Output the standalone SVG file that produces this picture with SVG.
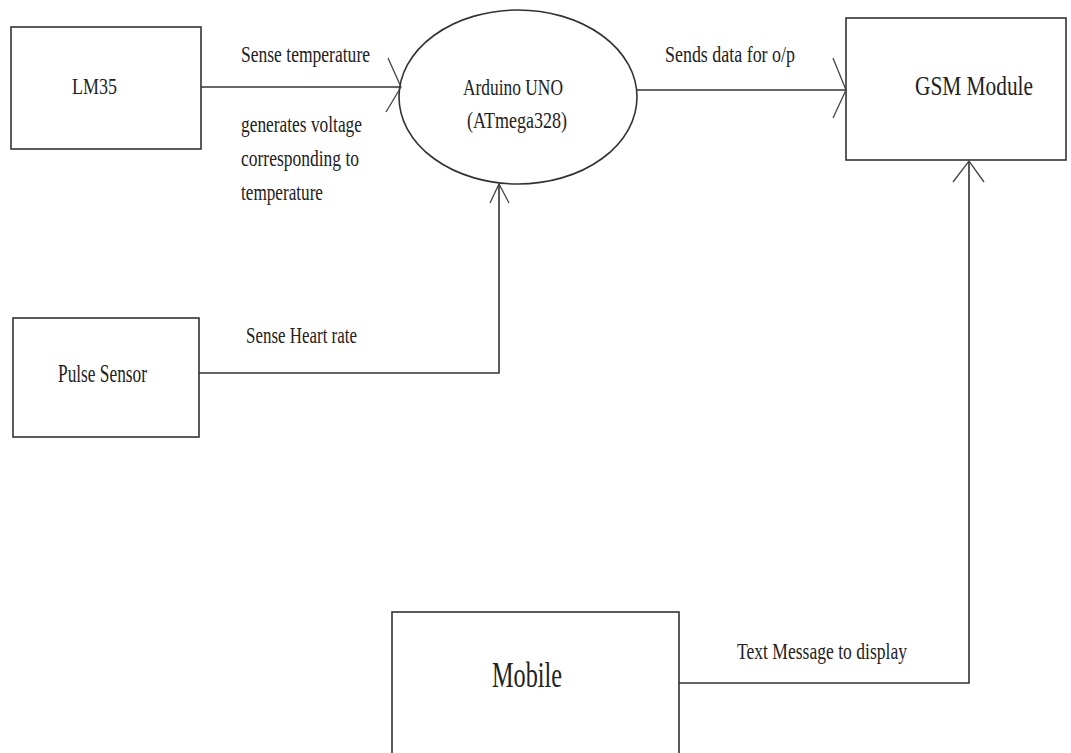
<svg xmlns="http://www.w3.org/2000/svg" width="1071" height="753" viewBox="0 0 1071 753">
<style>
.box{fill:none;stroke:#333;stroke-width:1.6}
.ln{fill:none;stroke:#333;stroke-width:1.6}
.ah{fill:none;stroke:#444;stroke-width:1.3}
text{font-family:"Liberation Serif","Times New Roman",serif;fill:#222}
</style>
<rect x="0" y="0" width="1071" height="753" fill="#fff"/>
<g id="lm35">
<rect class="box" x="11" y="27" width="190" height="122"/>
<text x="72" y="94" font-size="23" textLength="45" lengthAdjust="spacingAndGlyphs">LM35</text>
</g>
<g id="arduino">
<ellipse class="box" cx="518" cy="97" rx="119" ry="87"/>
<text x="463" y="95" font-size="24" textLength="100" lengthAdjust="spacingAndGlyphs">Arduino UNO</text>
<text x="467" y="128" font-size="24" textLength="100" lengthAdjust="spacingAndGlyphs">(ATmega328)</text>
</g>
<g id="gsm">
<rect class="box" x="846" y="18" width="220" height="142"/>
<text x="915" y="95" font-size="27" textLength="118" lengthAdjust="spacingAndGlyphs">GSM Module</text>
</g>
<g id="pulse">
<rect class="box" x="13" y="318" width="186" height="119"/>
<text x="58" y="382" font-size="25" textLength="89" lengthAdjust="spacingAndGlyphs">Pulse Sensor</text>
</g>
<g id="mobile">
<rect class="box" x="392" y="612" width="287" height="150"/>
<text x="492" y="687" font-size="35" textLength="70" lengthAdjust="spacingAndGlyphs">Mobile</text>
</g>
<g id="connectors">
<path class="ln" d="M201,87 H401"/>
<polyline class="ah" points="388,58 401,87 386,112"/>
<path class="ln" d="M637,90 H846"/>
<polyline class="ah" points="833,58 846,90 833,118"/>
<path class="ln" d="M199,373 H499 V184"/>
<polyline class="ah" points="490,203 499,184 509,203"/>
<path class="ln" d="M679,683 H969 V161"/>
<polyline class="ah" points="953,182 969,161 984,182"/>
<text x="241" y="62" font-size="24" textLength="129" lengthAdjust="spacingAndGlyphs">Sense temperature</text>
<text x="241" y="132" font-size="24" textLength="121" lengthAdjust="spacingAndGlyphs">generates voltage</text>
<text x="241" y="166" font-size="24" textLength="118" lengthAdjust="spacingAndGlyphs">corresponding to</text>
<text x="241" y="200" font-size="24" textLength="82" lengthAdjust="spacingAndGlyphs">temperature</text>
<text x="665" y="62" font-size="24" textLength="130" lengthAdjust="spacingAndGlyphs">Sends data for o/p</text>
<text x="246" y="343" font-size="24" textLength="111" lengthAdjust="spacingAndGlyphs">Sense Heart rate</text>
<text x="737" y="659" font-size="24" textLength="170" lengthAdjust="spacingAndGlyphs">Text Message to display</text>
</g>
</svg>
